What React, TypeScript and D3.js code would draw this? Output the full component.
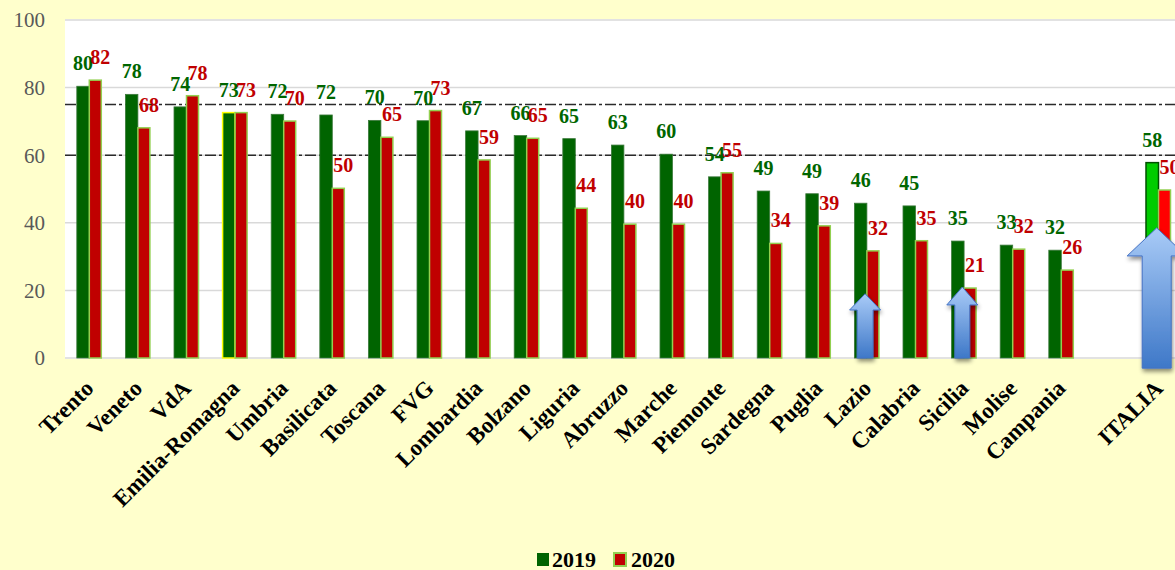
import React from "react";
import * as d3 from "d3";

// regioni ordinate per valore 2019, poi il totale nazionale
const regions = [
  "Trento", "Veneto", "VdA", "Emilia-Romagna", "Umbria", "Basilicata", "Toscana",
  "FVG", "Lombardia", "Bolzano", "Liguria", "Abruzzo", "Marche", "Piemonte",
  "Sardegna", "Puglia", "Lazio", "Calabria", "Sicilia", "Molise", "Campania",
];
const total = "ITALIA";

const values2019 = [
  80.4, 78.0, 74.3, 72.6, 72.1, 71.9, 70.3, 70.2, 67.2, 65.8, 64.9, 63.0, 60.3,
  53.6, 49.4, 48.6, 45.8, 45.0, 34.6, 33.4, 31.9,
];
const values2020 = [
  82.2, 68.1, 77.6, 72.6, 70.1, 50.2, 65.3, 73.2, 58.6, 65.0, 44.3, 39.6, 39.6,
  54.8, 33.9, 39.1, 31.7, 34.7, 20.7, 32.2, 26.0,
];
const total2019 = 57.8;
const total2020 = 49.7;

const yTicks = [0, 20, 40, 60, 80, 100];
const targetLines = [75, 60];

// frecce: categoria, punta, base della testa, fondo (in valori dell'asse)
const arrows = [
  { cat: "Lazio", tip: 19, neck: 14.2, base: 0, head: 15.5, shaft: 8 },
  { cat: "Sicilia", tip: 21, neck: 15.7, base: 0, head: 15.5, shaft: 7.5 },
  { cat: "ITALIA", tip: 38.5, neck: 30.2, base: -3, head: 29.5, shaft: 14.5 },
];

const W = 1175;
const H = 570;
const FONT = "'Liberation Serif', 'Times New Roman', serif";
const GREEN = "#006400";
const RED = "#C00000";
const LIME = "#92D050";

export default function App() {
  const domain = [...regions, "", total];
  const x = d3.scaleBand<string>().domain(domain).range([65, 65 + 23 * 48.6]);
  const y = d3.scaleLinear().domain([0, 100]).range([358, 20]);
  const cx = (c: string) => (x(c) ?? 0) + x.bandwidth() / 2;

  const rows = [
    ...regions.map((r, i) => ({ name: r, a: values2019[i], b: values2020[i] })),
    { name: total, a: total2019, b: total2020 },
  ];

  const greenFill = (n: string) => (n === total ? "#00CC00" : GREEN);
  const greenStroke = (n: string) =>
    n === "Emilia-Romagna" ? "#FFFF00" : n === total ? "#005000" : "#3D7A3D";
  const redFill = (n: string) => (n === total ? "#FF0000" : RED);

  const arrowPath = (a: (typeof arrows)[number]) => {
    const c = cx(a.cat) - 1.8;
    const pts: [number, number][] = [
      [c, y(a.tip)],
      [c + a.head, y(a.neck)],
      [c + a.shaft, y(a.neck)],
      [c + a.shaft, y(a.base)],
      [c - a.shaft, y(a.base)],
      [c - a.shaft, y(a.neck)],
      [c - a.head, y(a.neck)],
    ];
    return d3.line()(pts) + "Z";
  };

  return (
    <svg
      width={W}
      height={H}
      style={{ position: "fixed", left: 0, top: 0, display: "block" }}
      fontFamily={FONT}
    >
      <defs>
        <linearGradient id="arrowGrad" x1="0" y1="0" x2="0" y2="1">
          <stop offset="0%" stopColor="#A9CBF7" />
          <stop offset="100%" stopColor="#3E78C8" />
        </linearGradient>
        <filter id="shadow" x="-30%" y="-30%" width="160%" height="160%">
          <feDropShadow dx="1" dy="3" stdDeviation="2" floodColor="#000" floodOpacity="0.45" />
        </filter>
      </defs>
      <rect width={W} height={H} fill="#FFFFCC" />
      <rect x={65} y={19} width={W - 65} height={340} fill="#FFFFFF" />

      {yTicks.map((t) => (
        <g key={t}>
          <line x1={65} x2={W} y1={y(t)} y2={y(t)} stroke="#D9D9D9" strokeWidth={1.5} />
          <text
            x={45}
            y={y(t)}
            dy="0.35em"
            textAnchor="end"
            fontSize={21}
            fill="#595959"
          >
            {t}
          </text>
        </g>
      ))}

      {targetLines.map((t) => (
        <line
          key={t}
          x1={65}
          x2={W}
          y1={y(t)}
          y2={y(t)}
          stroke="#2A2A2A"
          strokeWidth={1.4}
          strokeDasharray="11,3,3,3"
        />
      ))}

      {rows.map((d) => {
        const c = cx(d.name);
        return (
          <g key={d.name}>
            <rect
              x={c - 12.5}
              y={y(d.a)}
              width={12.5}
              height={y(0) - y(d.a)}
              fill={greenFill(d.name)}
              stroke={greenStroke(d.name)}
              strokeWidth={d.name === "Emilia-Romagna" || d.name === total ? 1.5 : 0.8}
            />
            <rect
              x={c}
              y={y(d.b)}
              width={12}
              height={y(0) - y(d.b)}
              fill={redFill(d.name)}
              stroke={LIME}
              strokeWidth={1.5}
            />
          </g>
        );
      })}

      {rows.map((d) => {
        const c = cx(d.name);
        return (
          <g key={"l" + d.name} fontWeight="bold" fontSize={20} textAnchor="middle">
            <text x={c - 6.25} y={y(d.a) - 16} fill="#006600">
              {Math.round(d.a)}
            </text>
            <text x={c + 6 + 5} y={y(d.b) - 16} fill={RED}>
              {Math.round(d.b)}
            </text>
          </g>
        );
      })}

      {arrows.map((a) => (
        <path
          key={a.cat}
          d={arrowPath(a)}
          fill="url(#arrowGrad)"
          stroke="#4472C4"
          strokeWidth={1}
          filter="url(#shadow)"
        />
      ))}

      {[...regions, total].map((r) => (
        <text
          key={"x" + r}
          transform={`translate(${cx(r)},${384}) rotate(-45)`}
          dy="0.35em"
          textAnchor="end"
          fontSize={23}
          fontWeight="bold"
          fill="#000"
        >
          {r}
        </text>
      ))}

      <g fontWeight="bold" fontSize={22} fill="#000">
        <rect x={537} y={553} width={12} height={13} fill={GREEN} />
        <text x={552} y={567}>2019</text>
        <rect x={614} y={553} width={12} height={13} fill={RED} stroke={LIME} strokeWidth={2} />
        <text x={631} y={567}>2020</text>
      </g>
    </svg>
  );
}
